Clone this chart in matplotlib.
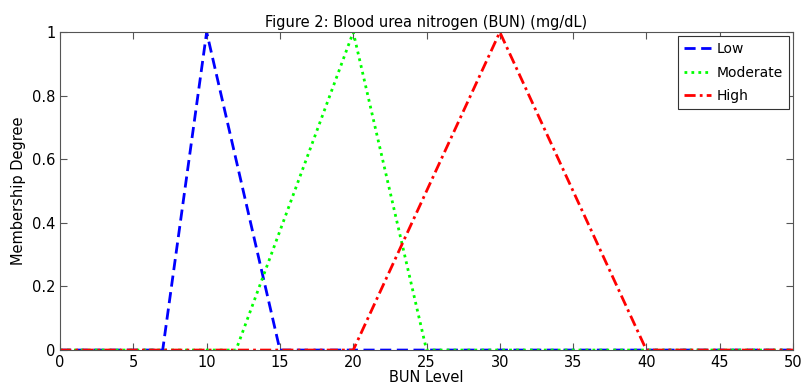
import matplotlib.pyplot as plt

# BUN membership functions (triangular)
x_low = [0, 7, 10, 15, 50]
y_low = [0, 0, 1, 0, 0]
x_mod = [0, 12, 20, 25, 50]
y_mod = [0, 0, 1, 0, 0]
x_high = [0, 20, 30, 40, 50]
y_high = [0, 0, 1, 0, 0]

xticks = list(range(0, 51, 5))
yticks = [0, 0.2, 0.4, 0.6, 0.8, 1]
ytick_labels = ['0', '0.2', '0.4', '0.6', '0.8', '1']

plt.rcParams['font.family'] = ['DejaVu Sans']

fig = plt.figure(figsize=(8.01, 3.92), dpi=100)
ax = fig.add_axes([0.075, 0.107, 0.915, 0.811])

ax.plot(x_low, y_low, color='#0000ff', linestyle=(0, (4, 2)), linewidth=2, label='Low')
ax.plot(x_mod, y_mod, color='#00ff00', linestyle=(0, (1, 1.5)), linewidth=2, label='Moderate')
ax.plot(x_high, y_high, color='#ff0000', linestyle=(0, (4, 1.5, 1, 1.5)), linewidth=2, label='High')

ax.set_xlim(0, 50)
ax.set_ylim(0, 1)
ax.set_xticks(xticks)
ax.set_yticks(yticks)
ax.set_yticklabels(ytick_labels)
ax.tick_params(direction='in', top=True, right=True, labelsize=10.5, length=5, color='#555555')
for s in ax.spines.values():
    s.set_color('#555555')

ax.set_xlabel('BUN Level', fontsize=10.5, labelpad=0)
ax.set_ylabel('Membership Degree', fontsize=10.5)
ax.set_title('Figure 2: Blood urea nitrogen (BUN) (mg/dL)', fontsize=10.5, pad=4)

leg = ax.legend(loc='upper right', fontsize=10, fancybox=False, framealpha=1,
                edgecolor='#333333', handlelength=2.0, handletextpad=0.4,
                labelspacing=0.7, borderaxespad=0.3)
leg.get_frame().set_linewidth(0.8)

fig.savefig('out.png', dpi=100)
